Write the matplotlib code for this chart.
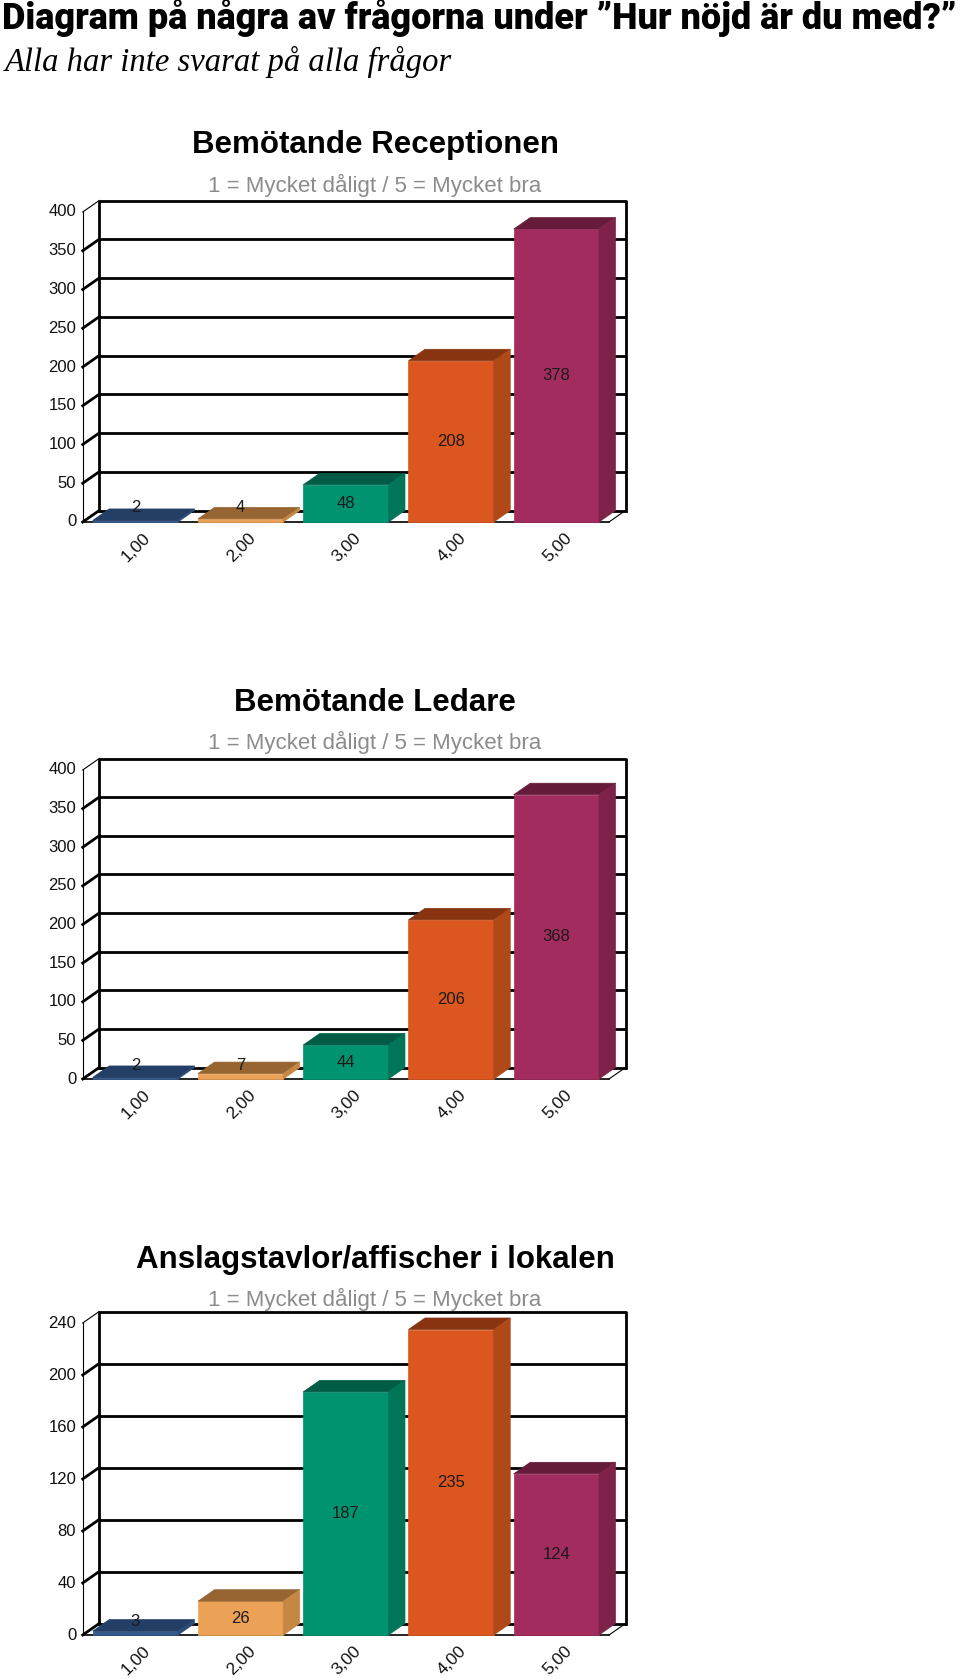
import matplotlib.pyplot as plt
from matplotlib.patches import Polygon

W, H = 960, 1679
fig = plt.figure(figsize=(W / 100, H / 100), dpi=100)

# data
categories = ["1,00", "2,00", "3,00", "4,00", "5,00"]
reception = [2, 4, 48, 208, 378]
ledare = [2, 7, 44, 206, 368]
anslag = [3, 26, 187, 235, 124]
titles = ["Bemötande Receptionen", "Bemötande Ledare", "Anslagstavlor/affischer i lokalen"]
scale_note = "1 = Mycket dåligt / 5 = Mycket bra"
header = "Diagram på några av frågorna under ”Hur nöjd är du med?”"
subheader = "Alla har inte svarat på alla frågor"

front_col = ["#355a8c", "#eba257", "#00936f", "#dc5720", "#a32c5f"]
top_col = ["#243f66", "#976531", "#005c45", "#883410", "#661b3a"]
side_col = ["#2c4c78", "#c68744", "#007558", "#b04818", "#7e2249"]

SANS = ["Liberation Sans", "DejaVu Sans"]


def fit_width(txt, width_px):
    r = fig.canvas.get_renderer()
    bb = txt.get_window_extent(r)
    txt.set_fontsize(txt.get_fontsize() * width_px / bb.width)


# header texts
h1 = fig.text(2 / W, 1 - 18 / H, header, ha="left", va="center", fontsize=22,
              family=["Roboto", "DejaVu Sans"], fontweight="black")
fit_width(h1, 952)
h2 = fig.text(5 / W, 1 - 62 / H, subheader, ha="left", va="center", fontsize=20,
              family=["Liberation Serif"], style="italic")
fit_width(h2, 446)


def draw_chart(values, title, y0, ytop, ymax, step, title_y, sub_y):
    left, right = 82.7, 609.0
    ax = fig.add_axes([left / W, 1 - y0 / H, (right - left) / W, (y0 - ytop) / H])
    ax.set_xlim(0, 5)
    ax.set_ylim(0, ymax)
    ax.axis("off")
    n = len(values)
    ppx = (right - left) / n          # pixels per category
    ppy = (y0 - ytop) / ymax          # pixels per unit
    dx = 16.5 / ppx
    dy = 11.5 / ppy

    ticks = list(range(0, ymax + 1, step))
    for t in ticks:
        if t < ymax:
            ax.plot([dx, n + dx], [t + dy, t + dy], color="black", lw=2,
                    clip_on=False, solid_capstyle="butt", zorder=1)
            ax.plot([0, dx], [t, t + dy], color="black", lw=2, clip_on=False, zorder=1)
        else:
            ax.plot([0, dx], [t, t + dy], color="black", lw=0.8, clip_on=False, zorder=1)
        ax.text(-6.5 / ppx, t, str(t), ha="right", va="center", fontsize=12,
                family=SANS, color="#111111")
    # back wall frame
    ax.plot([dx, dx, n + dx, n + dx], [dy, ymax + dy, ymax + dy, dy],
            color="black", lw=2, clip_on=False, zorder=1)
    # front axis and floor
    ax.plot([0, 0], [0, ymax], color="black", lw=0.8, clip_on=False, zorder=1)
    ax.plot([0, n], [0, 0], color="black", lw=1.2, clip_on=False, zorder=1)
    ax.plot([n, n + dx], [0, dy], color="black", lw=0.8, clip_on=False, zorder=1)

    w = 0.81
    for i, v in enumerate(values):
        x0 = i + 0.5 - w / 2
        x1 = i + 0.5 + w / 2
        ax.add_patch(Polygon([(x0, 0), (x1, 0), (x1, v), (x0, v)], closed=True,
                             facecolor=front_col[i], edgecolor=front_col[i], lw=0.5,
                             zorder=3, clip_on=False))
        ax.add_patch(Polygon([(x0, v), (x1, v), (x1 + dx, v + dy), (x0 + dx, v + dy)],
                             closed=True, facecolor=top_col[i], edgecolor=top_col[i],
                             lw=0.5, zorder=3, clip_on=False))
        ax.add_patch(Polygon([(x1, 0), (x1 + dx, dy), (x1 + dx, v + dy), (x1, v)],
                             closed=True, facecolor=side_col[i], edgecolor=side_col[i],
                             lw=0.5, zorder=3, clip_on=False))
        ypos = max(v / 2, 14 / ppy)
        ax.text(i + 0.5, ypos, str(v), ha="center", va="center", fontsize=12,
                family=SANS, color="#1a1a1a", zorder=5)
        ax.text(i + 0.5 + 13 / ppx, -14 / ppy, categories[i], rotation=45,
                rotation_mode="anchor", ha="right", va="center", fontsize=12.5,
                family=SANS, color="#111111")

    fig.text(375 / W, 1 - title_y / H, title, ha="center", va="center",
             fontsize=22.5, fontweight="bold", family=SANS)
    fig.text(375 / W, 1 - sub_y / H, scale_note, ha="center", va="center",
             fontsize=16, family=SANS, color="#8c8c8c")


draw_chart(reception, titles[0], 522, 212, 400, 50, 145, 185)
draw_chart(ledare, titles[1], 1079, 770, 400, 50, 703, 742)
draw_chart(anslag, titles[2], 1635, 1323, 240, 40, 1260, 1299)

fig.savefig("out.png", dpi=100, facecolor="white")
